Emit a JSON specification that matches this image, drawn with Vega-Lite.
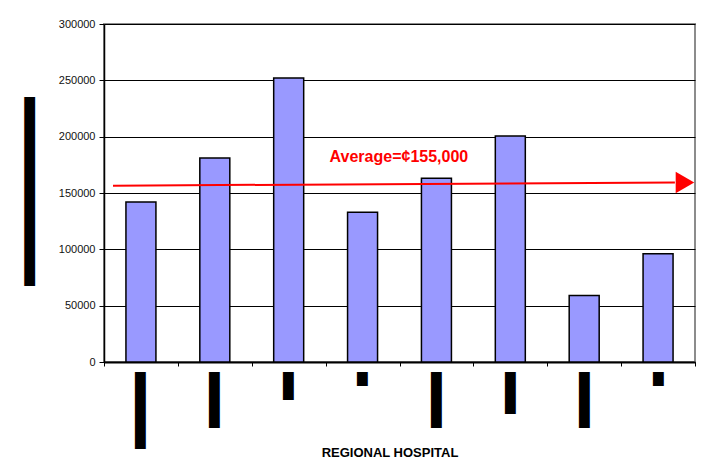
{
  "$schema": "https://vega.github.io/schema/vega-lite/v6.json",
  "width": 591,
  "height": 338,
  "autosize": {"type": "none"},
  "padding": {"left": 104, "top": 24, "right": 12, "bottom": 99},
  "background": "white",
  "config": {
    "view": {"stroke": "#8c8c8c", "strokeWidth": 2},
    "font": "Liberation Sans"
  },
  "datasets": {
    "hospitals": [
      {"hospital": "H1", "value": 142000},
      {"hospital": "H2", "value": 181000},
      {"hospital": "H3", "value": 252000},
      {"hospital": "H4", "value": 133000},
      {"hospital": "H5", "value": 163000},
      {"hospital": "H6", "value": 200500},
      {"hospital": "H7", "value": 59000},
      {"hospital": "H8", "value": 96000}
    ],
    "average": [
      {"pos": 0.0152, "amount": 156500, "pos2": 0.966, "amount2": 159300}
    ],
    "arrowhead": [
      {"pos": 0.983, "amount": 159400}
    ],
    "note": [
      {"pos": 0.499, "amount": 182200, "text": "Average=¢155,000"}
    ]
  },
  "resolve": {"scale": {"x": "independent"}},
  "layer": [
    {
      "data": {"name": "hospitals"},
      "mark": {"type": "bar", "width": {"band": 0.406}, "fill": "#9999ff", "stroke": "black", "strokeWidth": 1.5},
      "encoding": {
        "x": {
          "field": "hospital",
          "type": "nominal",
          "sort": null,
          "scale": {"paddingInner": 0, "paddingOuter": 0},
          "axis": {
            "title": "REGIONAL HOSPITAL",
            "titleFont": "Liberation Sans",
            "titleFontWeight": "bold",
            "titleFontSize": 13,
            "titleColor": "black",
            "titleX": 285.5,
            "titleY": 90,
            "titleAlign": "center",
            "titleBaseline": "middle",
            "labelExpr": "['███████████','████████','████','██','████████','██████','████████','██'][indexof(['H1','H2','H3','H4','H5','H6','H7','H8'], datum.value)]",
            "labelAngle": 90,
            "labelAlign": "left",
            "labelBaseline": "middle",
            "labelFont": "DejaVu Sans",
            "labelFontSize": 9.12,
            "labelColor": "black",
            "labelPadding": 5.5,
            "labelOffset": -1,
            "labelOverlap": false,
            "labelLimit": 0,
            "tickSize": 4,
            "tickColor": "black",
            "tickBand": "extent",
            "domainColor": "black",
            "domainWidth": 2,
            "grid": false
          }
        },
        "y": {
          "field": "value",
          "type": "quantitative",
          "scale": {"domain": [0, 300000], "nice": false},
          "axis": {
            "title": "███████████████████████████",
            "titleFont": "DejaVu Sans",
            "titleFontSize": 9.12,
            "titleFontWeight": "normal",
            "titleColor": "black",
            "titleX": -74.5,
            "titleY": 167,
            "titleAlign": "center",
            "titleBaseline": "middle",
            "values": [0, 50000, 100000, 150000, 200000, 250000, 300000],
            "format": "d",
            "labelFont": "Liberation Sans",
            "labelFontSize": 11,
            "labelColor": "#111111",
            "labelPadding": 4,
            "tickSize": 5,
            "tickColor": "black",
            "gridColor": "black",
            "gridWidth": 1,
            "domainColor": "black",
            "domainWidth": 1.5
          }
        }
      }
    },
    {
      "data": {"name": "average"},
      "mark": {"type": "rule", "color": "#ff0000", "strokeWidth": 2},
      "encoding": {
        "x": {"field": "pos", "type": "quantitative", "scale": {"domain": [0, 1], "nice": false, "zero": false}, "axis": null},
        "x2": {"field": "pos2"},
        "y": {"field": "amount", "type": "quantitative"},
        "y2": {"field": "amount2"}
      }
    },
    {
      "data": {"name": "arrowhead"},
      "mark": {"type": "point", "shape": "triangle-right", "filled": true, "color": "#ff0000", "opacity": 1, "size": 460},
      "encoding": {
        "x": {"field": "pos", "type": "quantitative", "scale": {"domain": [0, 1], "nice": false, "zero": false}, "axis": null},
        "y": {"field": "amount", "type": "quantitative"}
      }
    },
    {
      "data": {"name": "note"},
      "mark": {"type": "text", "color": "#ff0000", "font": "Liberation Sans", "fontWeight": "bold", "fontSize": 16, "align": "center", "baseline": "middle"},
      "encoding": {
        "x": {"field": "pos", "type": "quantitative", "scale": {"domain": [0, 1], "nice": false, "zero": false}, "axis": null},
        "y": {"field": "amount", "type": "quantitative"},
        "text": {"field": "text"}
      }
    }
  ]
}
